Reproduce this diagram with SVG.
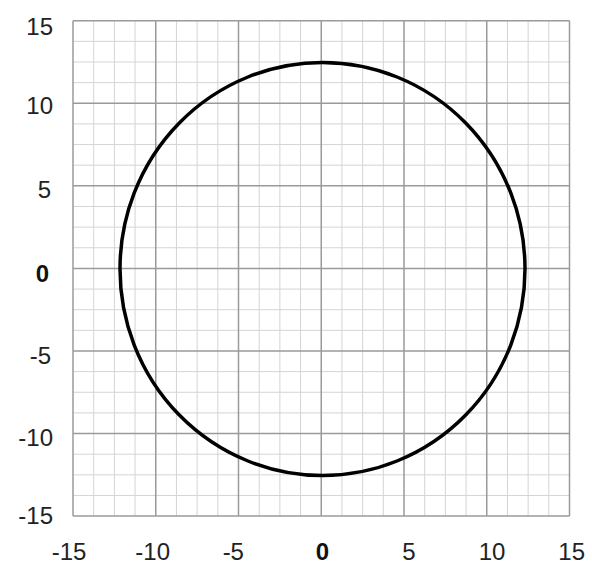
<svg xmlns="http://www.w3.org/2000/svg" width="592" height="565" viewBox="0 0 592 565">
<style>
.minor{stroke:#d4d4d4;stroke-width:1;fill:none}
.major{stroke:#9a9a9a;stroke-width:1.5;fill:none}
.lbl{font-family:"Liberation Sans",Arial,sans-serif;font-size:24px;fill:#222}
.y{text-anchor:end}
.x{text-anchor:middle}
.b{font-weight:bold;fill:#111}
</style>
<rect width="592" height="565" fill="#ffffff"/>
<g id="grid-minor" class="minor">
<path d="M93.69 20.7V516.1M114.38 20.7V516.1M135.06 20.7V516.1M176.44 20.7V516.1M197.13 20.7V516.1M217.81 20.7V516.1M259.19 20.7V516.1M279.88 20.7V516.1M300.56 20.7V516.1M341.94 20.7V516.1M362.63 20.7V516.1M383.31 20.7V516.1M424.69 20.7V516.1M445.38 20.7V516.1M466.06 20.7V516.1M507.44 20.7V516.1M528.13 20.7V516.1M548.81 20.7V516.1"/>
<path d="M73 41.34H569.5M73 61.99H569.5M73 82.63H569.5M73 123.91H569.5M73 144.56H569.5M73 165.2H569.5M73 206.48H569.5M73 227.13H569.5M73 247.77H569.5M73 289.05H569.5M73 309.7H569.5M73 330.34H569.5M73 371.62H569.5M73 392.27H569.5M73 412.91H569.5M73 454.19H569.5M73 474.84H569.5M73 495.48H569.5"/>
</g>
<g id="grid-major" class="major">
<path d="M73 20.7V516.1M155.75 20.7V516.1M238.5 20.7V516.1M321.25 20.7V516.1M404 20.7V516.1M486.75 20.7V516.1M569.5 20.7V516.1"/>
<path d="M73 20.7H569.5M73 103.27H569.5M73 185.84H569.5M73 268.41H569.5M73 350.98H569.5M73 433.55H569.5M73 516.12H569.5"/>
</g>
<g id="y-labels" class="lbl y">
<text x="53" y="35">15</text>
<text x="53" y="113.5">10</text>
<text x="51" y="198">5</text>
<text x="49" y="281.5" class="b">0</text>
<text x="51" y="363.5">-5</text>
<text x="53" y="445.5">-10</text>
<text x="53" y="523.5">-15</text>
</g>
<g id="x-labels" class="lbl x">
<text x="69" y="559.5">-15</text>
<text x="152.7" y="559.5">-10</text>
<text x="233.3" y="559.5">-5</text>
<text x="322.5" y="559.5" class="b">0</text>
<text x="409" y="559.5">5</text>
<text x="492" y="559.5">10</text>
<text x="571.7" y="559.5">15</text>
</g>
<g id="circle">
<ellipse cx="322.5" cy="269" rx="202.5" ry="206.5" fill="none" stroke="#000" stroke-width="3.5"/>
</g>
</svg>
